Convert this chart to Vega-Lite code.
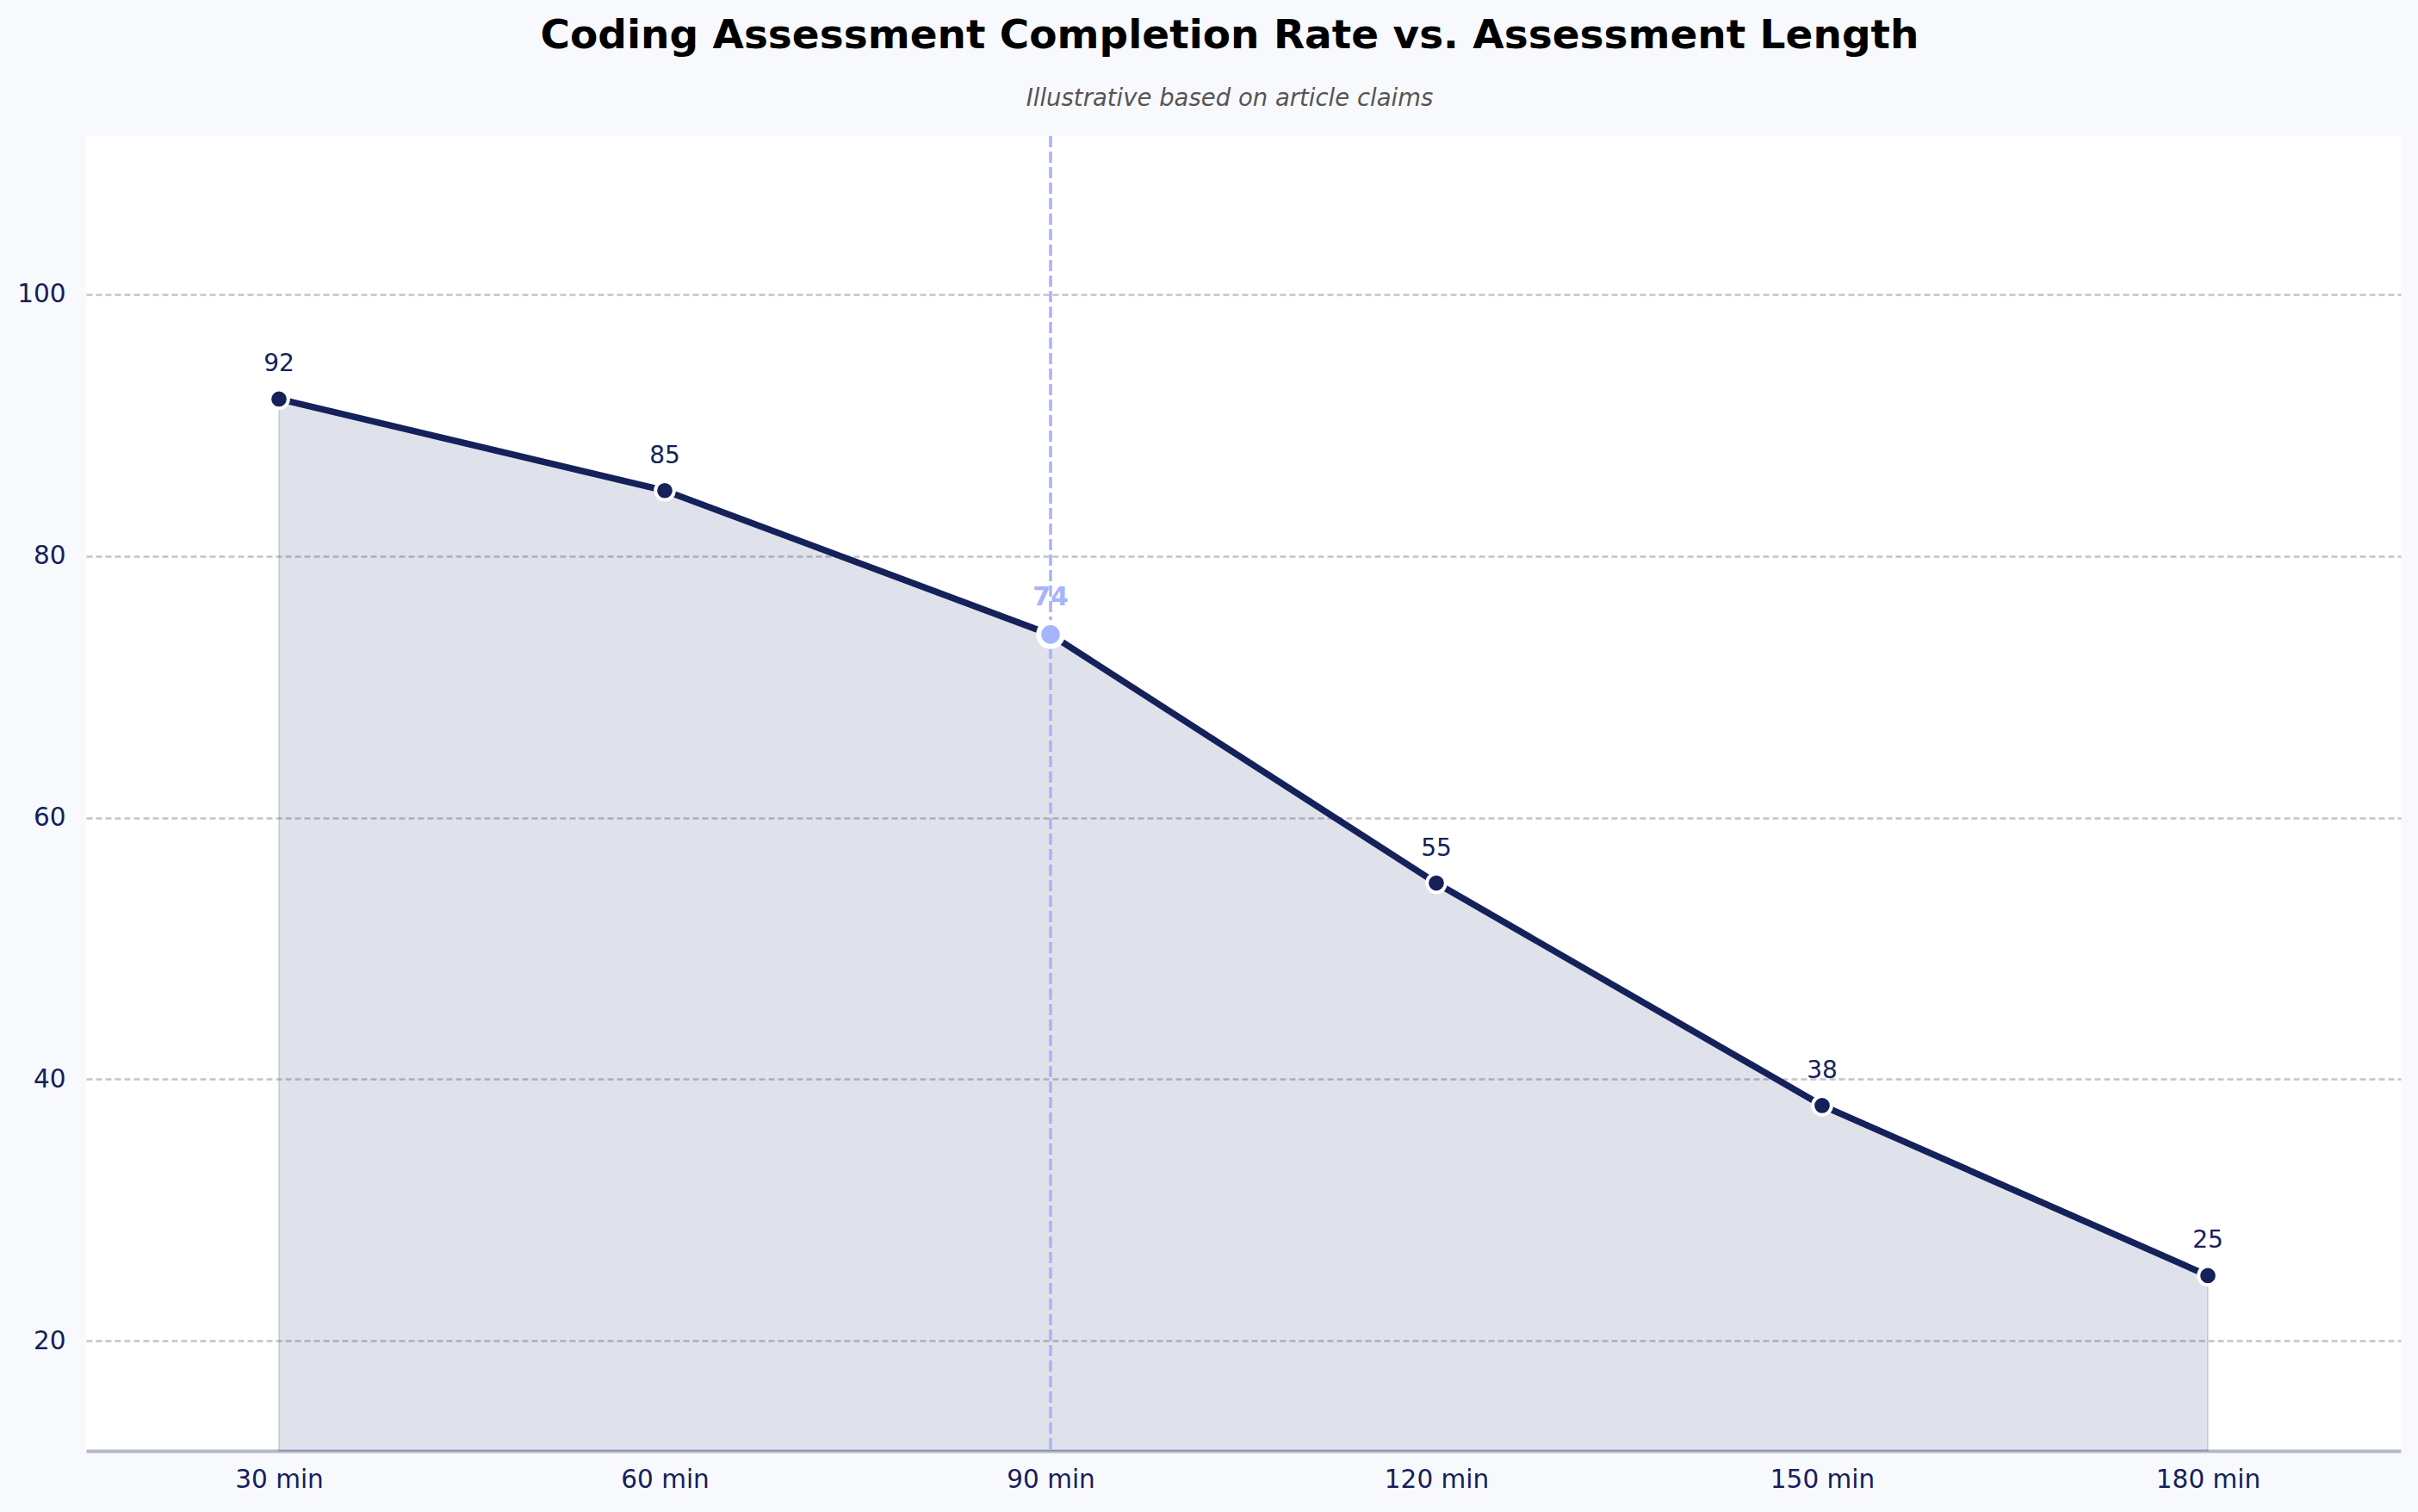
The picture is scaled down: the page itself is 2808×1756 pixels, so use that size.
{
  "$schema": "https://vega.github.io/schema/vega-lite/v6.json",
  "description": "Coding assessment completion rate by assessment length",
  "width": 2688,
  "height": 1527,
  "autosize": {"type": "none"},
  "padding": {"left": 100, "top": 158, "right": 20, "bottom": 71},
  "background": "#f8f9fc",
  "view": {"fill": "white", "stroke": null},
  "title": {
    "text": "Coding Assessment Completion Rate vs. Assessment Length",
    "subtitle": "Illustrative based on article claims",
    "font": "DejaVu Sans",
    "fontSize": 47,
    "fontWeight": "bold",
    "color": "#000000",
    "subtitleFont": "DejaVu Sans",
    "subtitleFontSize": 27.5,
    "subtitleFontStyle": "italic",
    "subtitleColor": "#555555",
    "subtitlePadding": 35,
    "anchor": "middle",
    "dx": -16,
    "offset": 27
  },
  "config": {
    "font": "DejaVu Sans",
    "axis": {
      "labelFont": "DejaVu Sans",
      "labelFontSize": 29.5,
      "labelColor": "#14215a",
      "ticks": false,
      "title": null
    }
  },
  "data": {
    "values": [
      {"length": "30 min", "rate": 92},
      {"length": "60 min", "rate": 85},
      {"length": "90 min", "rate": 74},
      {"length": "120 min", "rate": 55},
      {"length": "150 min", "rate": 38},
      {"length": "180 min", "rate": 25}
    ]
  },
  "encoding": {
    "x": {
      "field": "length",
      "type": "ordinal",
      "sort": ["30 min", "60 min", "90 min", "120 min", "150 min", "180 min"],
      "scale": {"type": "point", "padding": 0.5},
      "axis": {
        "labelAngle": 0,
        "labelPadding": 19,
        "grid": false,
        "domain": true,
        "domainColor": "#b3b8cc",
        "domainWidth": 4
      }
    },
    "y": {
      "field": "rate",
      "type": "quantitative",
      "scale": {"domain": [11.6, 112.1], "nice": false, "zero": false},
      "axis": {
        "values": [20, 40, 60, 80, 100],
        "labelPadding": 24,
        "domain": false,
        "grid": true,
        "gridColor": "#c4c4c4",
        "gridWidth": 2.5,
        "gridDash": [7, 4]
      }
    }
  },
  "layer": [
    {
      "mark": {
        "type": "area",
        "color": "#293e73",
        "fillOpacity": 0.15,
        "stroke": "#293e73",
        "strokeOpacity": 0.15,
        "strokeWidth": 2
      },
      "encoding": {"y2": {"datum": 11.6}}
    },
    {
      "mark": {
        "type": "rule",
        "color": "#aab4f5",
        "opacity": 0.45,
        "strokeWidth": 3,
        "strokeDash": [13, 5]
      },
      "encoding": {
        "x": {"datum": "90 min"},
        "y": null
      }
    },
    {
      "mark": {"type": "line", "color": "#14215a", "strokeWidth": 7.5}
    },
    {
      "mark": {
        "type": "point",
        "filled": true,
        "opacity": 1,
        "stroke": "white"
      },
      "encoding": {
        "color": {
          "condition": {"test": "datum.length === '90 min'", "value": "#a5b4fc"},
          "value": "#14215a"
        },
        "size": {
          "condition": {"test": "datum.length === '90 min'", "value": 760},
          "value": 470
        },
        "strokeWidth": {
          "condition": {"test": "datum.length === '90 min'", "value": 6},
          "value": 4
        }
      }
    },
    {
      "transform": [{"filter": "datum.length !== '90 min'"}],
      "mark": {
        "type": "text",
        "fontSize": 28,
        "color": "#14215a",
        "baseline": "alphabetic",
        "dy": -32
      },
      "encoding": {"text": {"field": "rate", "type": "quantitative"}}
    },
    {
      "transform": [{"filter": "datum.length === '90 min'"}],
      "mark": {
        "type": "text",
        "fontSize": 30,
        "fontWeight": "bold",
        "color": "#a5b4fc",
        "baseline": "alphabetic",
        "dy": -34
      },
      "encoding": {"text": {"field": "rate", "type": "quantitative"}}
    }
  ]
}
